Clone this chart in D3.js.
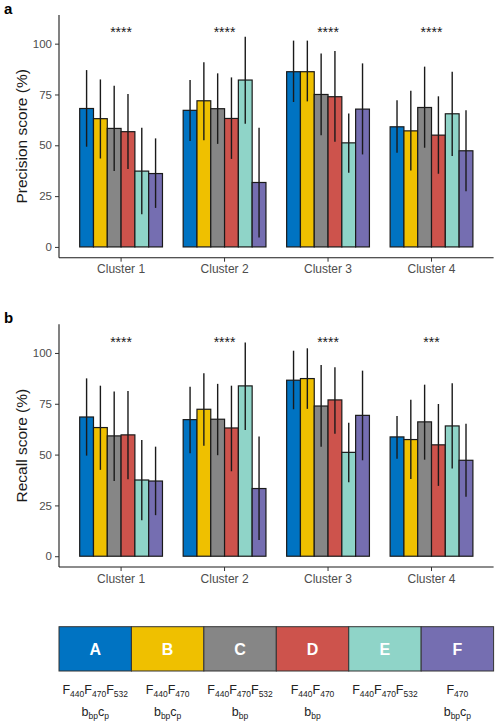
<!DOCTYPE html>
<html>
<head>
<meta charset="utf-8">
<script src="https://cdn.jsdelivr.net/npm/d3@7"></script>
<style>
  body { margin: 0; background: #fff; }
  svg { display: block; font-family: "Liberation Sans", Arial, sans-serif; }
</style>
</head>
<body>
<svg id="chart" width="500" height="724"></svg>
<script>
// data
const clusters = ['Cluster 1', 'Cluster 2', 'Cluster 3', 'Cluster 4'];
const groups = ['A', 'B', 'C', 'D', 'E', 'F'];
const colors = ['#0073C2', '#EFC000', '#868686', '#CD534C', '#8FD4C8', '#756EB1'];

// rows = clusters, columns = groups A..F
const precisionMean = [
  [68.1, 63.1, 58.3, 56.7, 37.3, 36.1],
  [67.2, 71.9, 68.0, 63.2, 82.1, 31.7],
  [86.2, 86.2, 75.0, 73.9, 51.2, 67.8],
  [59.1, 57.1, 68.6, 55.0, 65.5, 47.3],
];
const precisionLow = [
  [49.3, 43.5, 37.3, 38.3, 16.1, 19.2],
  [52.1, 52.5, 50.7, 43.3, 60.6, 4.6],
  [71.3, 71.6, 55.0, 51.7, 36.5, 45.5],
  [46.3, 37.6, 48.8, 36.0, 44.7, 27.4],
];
const precisionHigh = [
  [87.0, 82.4, 79.3, 75.2, 58.6, 53.4],
  [82.1, 90.8, 85.4, 83.4, 103.4, 58.6],
  [101.5, 101.5, 95.2, 96.4, 65.7, 90.3],
  [72.1, 76.8, 88.7, 74.1, 86.2, 67.2],
];
const precisionSig = ['****', '****', '****', '****'];

const recallMean = [
  [68.5, 63.3, 59.2, 59.7, 37.5, 37.0],
  [67.2, 72.3, 67.4, 63.1, 83.8, 33.3],
  [86.6, 87.4, 73.9, 76.9, 51.1, 69.3],
  [58.7, 57.4, 66.1, 54.8, 64.1, 47.2],
];
const recallLow = [
  [49.5, 42.5, 37.0, 37.9, 17.7, 20.2],
  [50.7, 54.3, 49.7, 41.8, 62.1, 8.0],
  [72.3, 72.5, 53.9, 60.3, 36.4, 47.2],
  [47.9, 38.0, 47.5, 34.6, 43.1, 29.2],
];
const recallHigh = [
  [87.5, 83.9, 81.0, 81.3, 57.2, 53.9],
  [83.4, 90.0, 84.8, 83.9, 105.2, 58.9],
  [101.1, 102.3, 94.1, 93.0, 65.7, 91.3],
  [69.0, 77.0, 84.4, 74.9, 85.1, 65.2],
];
const recallSig = ['****', '****', '****', '***'];

const yTicks = [0, 25, 50, 75, 100];

// legend labels: [main, subscript] pairs per line
const legendLines = [
  [[['F', '440'], ['F', '470'], ['F', '532']], [['b', 'bp'], ['c', 'p']]],
  [[['F', '440'], ['F', '470']], [['b', 'bp'], ['c', 'p']]],
  [[['F', '440'], ['F', '470'], ['F', '532']], [['b', 'bp']]],
  [[['F', '440'], ['F', '470']], [['b', 'bp']]],
  [[['F', '440'], ['F', '470'], ['F', '532']], []],
  [[['F', '470']], [['b', 'bp'], ['c', 'p']]],
];

const svg = d3.select('#chart');
const left = 59, right = 493.6;
const textGrey = '#4d4d4d';
const font = '"Liberation Sans", Arial, sans-serif';

const x = d3.scaleBand().domain(clusters).range([left, right])
  .paddingInner(0.2).paddingOuter(0.2);
const xg = d3.scaleBand().domain(groups).range([0, x.bandwidth()]);

function panel(top, label, yTitle, mean, low, high, sig) {
  const bottom = top + 242.7;
  const y = d3.scaleLinear().domain([-5.3, 114.1]).range([bottom, top]);
  const g = svg.append('g');

  const rows = clusters.map((c, i) => groups.map((k, j) => ({
    cluster: c, group: k, color: colors[j],
    mean: mean[i][j], low: low[i][j], high: high[i][j],
  }))).flat();

  g.selectAll('rect.bar')
    .data(rows)
    .join('rect')
    .attr('class', 'bar')
    .attr('x', d => x(d.cluster) + xg(d.group))
    .attr('y', d => y(d.mean))
    .attr('width', xg.bandwidth())
    .attr('height', d => y(0) - y(d.mean))
    .attr('fill', d => d.color)
    .attr('stroke', '#1a1a1a')
    .attr('stroke-width', 1.2);

  g.selectAll('line.err')
    .data(rows)
    .join('line')
    .attr('class', 'err')
    .attr('x1', d => x(d.cluster) + xg(d.group) + xg.bandwidth() / 2)
    .attr('x2', d => x(d.cluster) + xg(d.group) + xg.bandwidth() / 2)
    .attr('y1', d => y(d.low))
    .attr('y2', d => y(d.high))
    .attr('stroke', '#1a1a1a')
    .attr('stroke-width', 1.4);

  g.selectAll('text.sig')
    .data(clusters)
    .join('text')
    .attr('class', 'sig')
    .attr('x', c => x(c) + x.bandwidth() / 2)
    .attr('y', y(107) + 8)
    .attr('text-anchor', 'middle')
    .attr('font-size', 14)
    .attr('fill', '#1a1a1a')
    .text((c, i) => sig[i]);

  const yAxis = g.append('g')
    .attr('transform', `translate(${left},0)`)
    .call(d3.axisLeft(y).tickValues(yTicks).tickSize(4).tickPadding(3));
  yAxis.select('.domain').attr('d', `M0,${bottom}V${top}`).attr('stroke', '#1a1a1a').attr('stroke-width', 1.1);
  yAxis.selectAll('.tick line').attr('stroke', '#333');
  yAxis.selectAll('.tick text').attr('fill', textGrey).attr('font-size', 11.5)
    .attr('font-family', font);

  const xAxis = g.append('g')
    .attr('transform', `translate(0,${bottom})`)
    .call(d3.axisBottom(x).tickSize(4).tickPadding(3));
  xAxis.select('.domain').attr('d', `M${left},0H${right}`).attr('stroke', '#1a1a1a').attr('stroke-width', 1.1);
  xAxis.selectAll('.tick line').attr('stroke', '#333');
  xAxis.selectAll('.tick text').attr('fill', textGrey).attr('font-size', 12)
    .attr('font-family', font);

  g.append('text')
    .attr('transform', `translate(27,${(top + bottom) / 2}) rotate(-90)`)
    .attr('text-anchor', 'middle')
    .attr('font-size', 15.5)
    .attr('fill', '#1a1a1a')
    .text(yTitle);

  g.append('text')
    .attr('x', 4)
    .attr('y', top - 1)
    .attr('font-size', 15)
    .attr('font-weight', 'bold')
    .text(label);
}

panel(15, 'a', 'Precision score (%)', precisionMean, precisionLow, precisionHigh, precisionSig);
panel(324.3, 'b', 'Recall score (%)', recallMean, recallLow, recallHigh, recallSig);

// legend
const lx = d3.scaleBand().domain(groups).range([left, right]);
const legTop = 626.7, legH = 44.3;
const leg = svg.append('g');

leg.selectAll('rect')
  .data(groups)
  .join('rect')
  .attr('x', d => lx(d))
  .attr('y', legTop)
  .attr('width', lx.bandwidth())
  .attr('height', legH)
  .attr('fill', (d, i) => colors[i])
  .attr('stroke', '#333')
  .attr('stroke-width', 1);

leg.selectAll('text.letter')
  .data(groups)
  .join('text')
  .attr('class', 'letter')
  .attr('x', d => lx(d) + lx.bandwidth() / 2)
  .attr('y', legTop + legH / 2 + 6)
  .attr('text-anchor', 'middle')
  .attr('font-size', 16)
  .attr('font-weight', 'bold')
  .attr('fill', '#fff')
  .text(d => d);

groups.forEach((k, i) => {
  legendLines[i].forEach((parts, li) => {
    if (!parts.length) return;
    const t = leg.append('text')
      .attr('x', lx(k) + lx.bandwidth() / 2)
      .attr('y', 694 + li * 21.5)
      .attr('text-anchor', 'middle')
      .attr('font-size', 12.5)
      .attr('fill', '#222');
    parts.forEach(([main, sub], pi) => {
      t.append('tspan').attr('dy', pi > 0 ? -3 : 0).text(main);
      t.append('tspan').attr('font-size', 8.5).attr('dy', 3).text(sub);
    });
  });
});
</script>
</body>
</html>
